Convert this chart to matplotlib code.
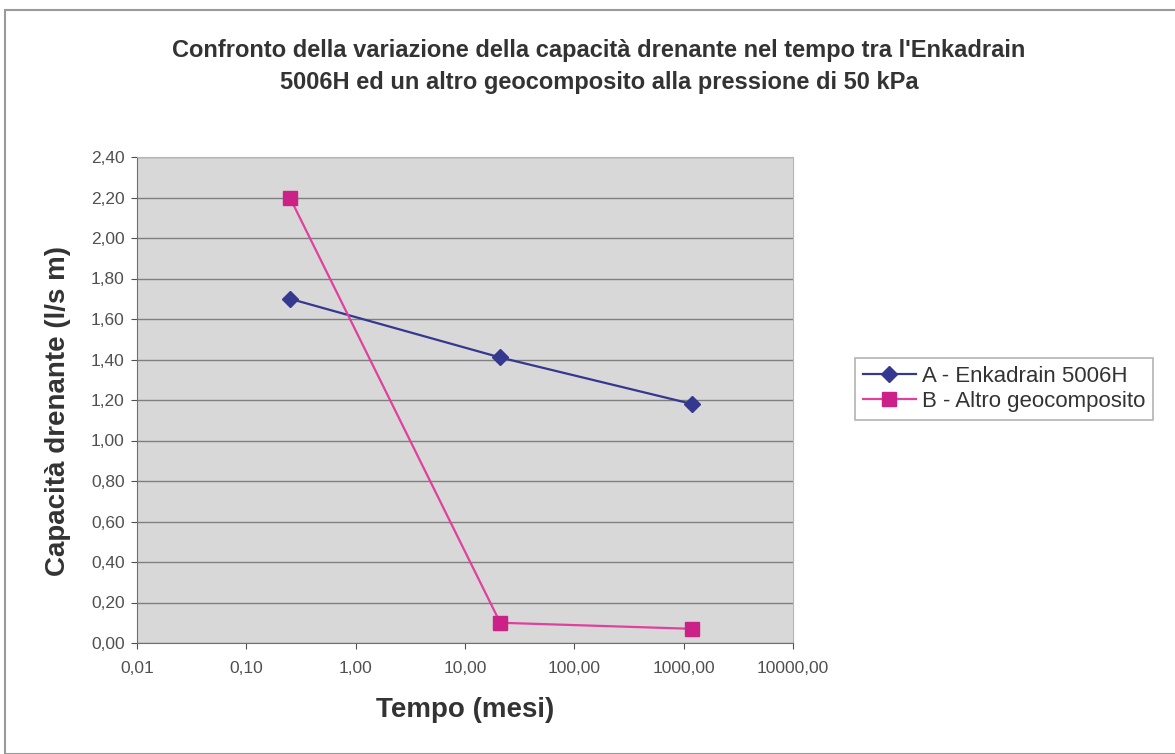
"""Confronto capacita drenante nel tempo: Enkadrain 5006H vs altro geocomposito."""

import matplotlib

matplotlib.use("Agg")

import matplotlib.pyplot as plt
from matplotlib.patches import Rectangle
from matplotlib.ticker import FixedLocator, FuncFormatter

plt.rcParams["font.family"] = ["Liberation Sans", "DejaVu Sans"]

# data (tempo in mesi, capacita in l/s m)
tempo = [0.25, 21.0, 1200.0]
serie_a = [1.70, 1.41, 1.18]
serie_b = [2.20, 0.10, 0.07]
label_a = "A - Enkadrain 5006H"
label_b = "B - Altro geocomposito"

x_ticks = [0.01, 0.1, 1, 10, 100, 1000, 10000]
y_ticks = [0.0, 0.2, 0.4, 0.6, 0.8, 1.0, 1.2, 1.4, 1.6, 1.8, 2.0, 2.2, 2.4]

title = ("Confronto della variazione della capacità drenante nel tempo tra l'Enkadrain\n"
         "5006H ed un altro geocomposito alla pressione di 50 kPa")


def comma(v, pos=None):
    return f"{v:.2f}".replace(".", ",")


fig = plt.figure(figsize=(11.75, 7.54), dpi=100)
fig.patch.set_facecolor("white")
# chart area frame
fig.patches.append(Rectangle((0.004, 0.0), 1.2, 0.987, transform=fig.transFigure,
                             fill=False, edgecolor="#9a9a9a", linewidth=1.5))

ax = fig.add_axes([137 / 1175, 1 - 643 / 754, (793 - 137) / 1175, (643 - 157) / 754])
ax.set_facecolor("#d8d8d8")

ax.plot(tempo, serie_a, color="#34388f", marker="D", markersize=8, linewidth=1.6,
        label=label_a)
ax.plot(tempo, serie_b, color="#e0409e", marker="s", markersize=10, linewidth=1.6,
        label=label_b, markerfacecolor="#cc2288", markeredgecolor="#cc2288")

ax.set_xscale("log")
ax.set_xlim(0.01, 10000)
ax.set_ylim(0, 2.4)
ax.xaxis.set_major_locator(FixedLocator(x_ticks))
ax.xaxis.set_minor_locator(FixedLocator([]))
ax.xaxis.set_major_formatter(FuncFormatter(comma))
ax.set_yticks(y_ticks)
ax.yaxis.set_major_formatter(FuncFormatter(comma))
ax.grid(True, axis="y", color="#7f7f7f", linewidth=1.0)
ax.set_axisbelow(True)

for side in ["top", "right"]:
    ax.spines[side].set_color("#b5b5b5")
for side in ["left", "bottom"]:
    ax.spines[side].set_color("#707070")
ax.tick_params(axis="both", labelsize=12.5, colors="#505050", length=4, direction="out")
ax.tick_params(axis="x", pad=9)
ax.tick_params(axis="y", pad=5)

ax.set_xlabel("Tempo (mesi)", fontsize=20, fontweight="bold", color="#333333")
ax.xaxis.set_label_coords(0.5, (643 - 710) / 486)
ax.xaxis.label.set_va("center")
ax.set_ylabel("Capacità drenante (l/s m)", fontsize=20, fontweight="bold",
              color="#333333")
ax.yaxis.set_label_coords((58 - 137) / 656, (643 - 411) / 486)
ax.yaxis.label.set_va("center")

fig.text(599 / 1175, 1 - 67 / 754, title, ha="center", va="center", fontsize=17,
         fontweight="bold", color="#333333", linespacing=1.5)

leg = fig.legend(loc="center left", bbox_to_anchor=(855 / 1175, 1 - 389 / 754),
                 fontsize=16, frameon=True, fancybox=False, edgecolor="#a0a0a0",
                 handlelength=2.4, handletextpad=0.25, borderpad=0.35,
                 labelspacing=0.2, borderaxespad=0)
leg.get_frame().set_linewidth(1.2)
for t in leg.get_texts():
    t.set_color("#333333")

fig.savefig("out.png", dpi=100)
plt.close(fig)
